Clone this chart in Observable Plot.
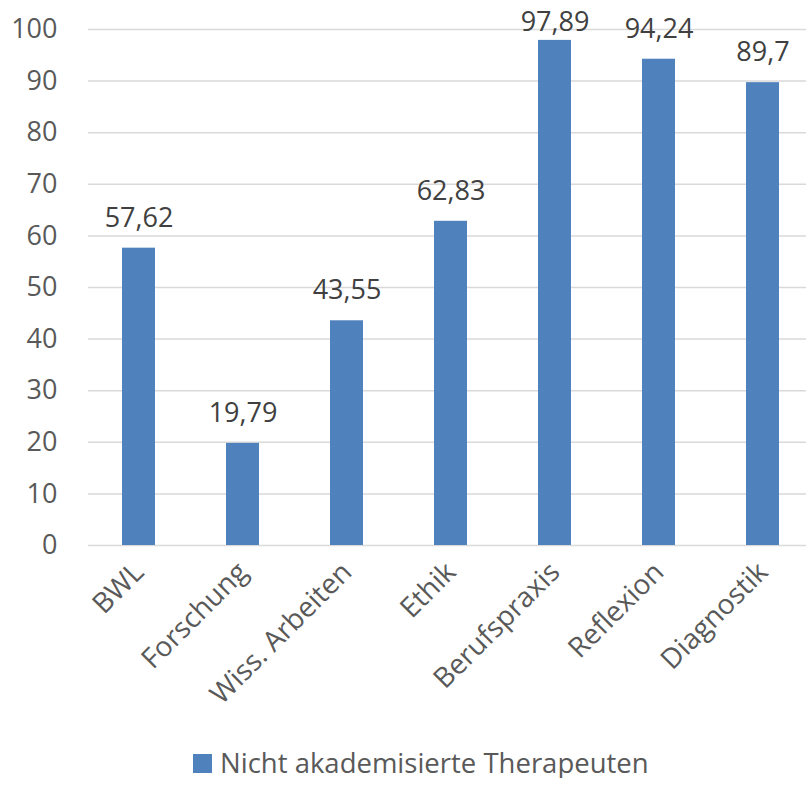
<!DOCTYPE html>
<html>
<head>
<meta charset="utf-8">
<script src="https://cdn.jsdelivr.net/npm/d3@7"></script>
<script src="https://cdn.jsdelivr.net/npm/@observablehq/plot@0.6"></script>
<style>
  body { margin: 0; background: #fff; font-family: "Open Sans", sans-serif; }
  #legend { display: flex; align-items: center; margin-left: 193px; margin-top: 28px; font-size: 27.5px; line-height: 30px; color: #595959; }
  #legend .sw { width: 19px; height: 19px; background: #4f81bd; margin-right: 8px; }
</style>
</head>
<body>
<div id="chart"></div>
<div id="legend"><div class="sw"></div><span id="legend-label"></span></div>
<script>
const categories = ["BWL", "Forschung", "Wiss. Arbeiten", "Ethik", "Berufspraxis", "Reflexion", "Diagnostik"];
const values = [57.62, 19.79, 43.55, 62.83, 97.89, 94.24, 89.7];
const valueLabels = ["57,62", "19,79", "43,55", "62,83", "97,89", "94,24", "89,7"];
const yTicks = [0, 10, 20, 30, 40, 50, 60, 70, 80, 90, 100];
const seriesName = "Nicht akademisierte Therapeuten";

const data = categories.map((c, i) => ({cat: c, value: values[i], label: valueLabels[i]}));

const chart = Plot.plot({
  width: 806,
  height: 720,
  marginLeft: 88,
  marginRight: 0,
  marginTop: 29,
  marginBottom: 175,
  style: {fontFamily: "Open Sans", fontSize: "27px", color: "#595959", background: "#fff"},
  x: {domain: categories, range: [87, 815], paddingInner: 0.68, paddingOuter: 0.34, label: null},
  y: {domain: [0, 100], label: null},
  marks: [
    Plot.gridY(yTicks, {stroke: "#d9d9d9", strokeOpacity: 1, strokeWidth: 1.5}),
    Plot.barY(data, {x: "cat", y: "value", fill: "#4f81bd"}),
    Plot.text(data, {x: "cat", y: d => Math.min(d.value, 95.6), text: "label", dy: -30, lineAnchor: "middle", fill: "#404040", fontSize: 27}),
    Plot.axisY(yTicks, {tickSize: 0, tickPadding: 31, fontSize: 27, fill: "#595959", label: null}),
    Plot.axisX({tickSize: 0, tickRotate: -45, tickPadding: 22, fontSize: 28, fill: "#595959", label: null})
  ]
});
document.getElementById("chart").appendChild(chart);
document.getElementById("legend-label").textContent = seriesName;
</script>
</body>
</html>
